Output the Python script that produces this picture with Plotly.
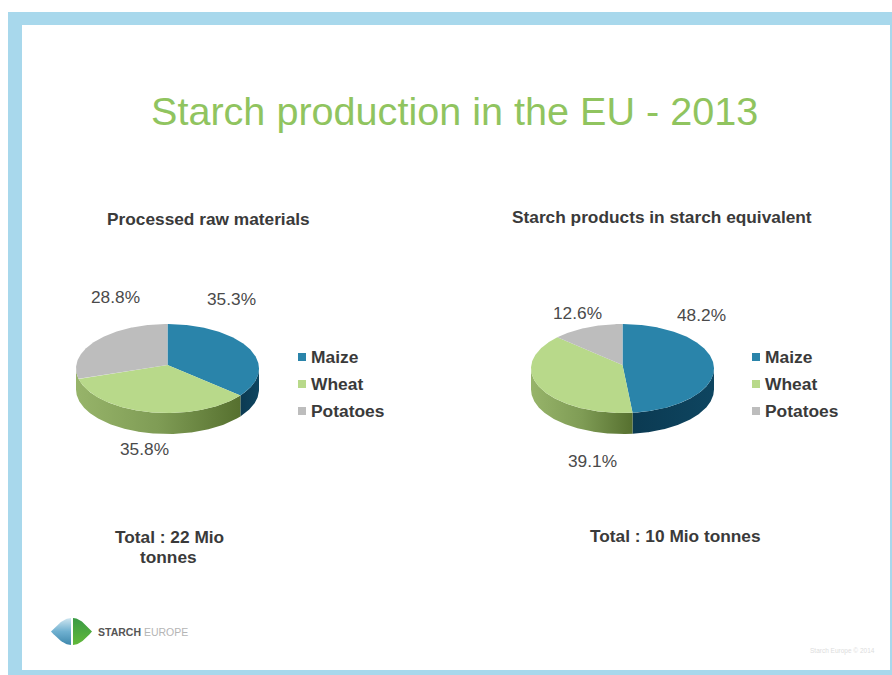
import numpy as np
import plotly.graph_objects as go

# Shares of each raw material, in percent
categories = ["Maize", "Wheat", "Potatoes"]
raw_material_shares = [35.3, 35.8, 28.8]
starch_product_shares = [48.2, 39.1, 12.6]
share_labels_left = ["35.3%", "35.8%", "28.8%"]
share_labels_right = ["48.2%", "39.1%", "12.6%"]

W, H = 892, 675
SANS = "Liberation Sans, Arial, sans-serif"
TOP_COLORS = ["#2a84aa", "#b8d98a", "#bdbdbd"]
LABEL_GREY = "#4a4a4a"
DARK_TEXT = "#3a3a3a"
FRAME = "#a8d8ec"

RX, RY, DEPTH = 91.5, 44.5, 21
CY = 368.5


def rim(start, stop, cx, cy):
    # Points along the elliptical rim, angle measured clockwise from 12 o'clock
    n = max(2, int(abs(stop - start) * 2))
    a = np.radians(np.linspace(start, stop, n))
    return cx + RX * np.sin(a), cy - RY * np.cos(a)


def add_pie(fig, shares, cx):
    total = sum(shares)
    edges = np.concatenate([[0], np.cumsum(shares) / total * 360])
    apex_y = CY - 3.5

    # Side wall of the front half of the rim, shaded from left to right
    walls = [
        (0, ["#0b3a52", "#0e4560"], 90, edges[1]),
        (1, ["#97b46a", "#7f9c55", "#56702f"], edges[1], 270),
    ]
    for i, stops, lo, hi in walls:
        lo = max(lo, 90)
        if hi <= lo:
            continue
        x, y = rim(lo, hi, cx, CY)
        xs = np.concatenate([x, x[::-1]])
        ys = np.concatenate([y, y[::-1] + DEPTH])
        scale = [[k / (len(stops) - 1), c] for k, c in enumerate(stops)]
        fig.add_trace(go.Scatter(
            x=xs, y=ys, mode="lines", line=dict(width=0), fill="toself",
            fillgradient=dict(type="horizontal", colorscale=scale),
            hoverinfo="skip", showlegend=False,
        ))

    # Top face wedges
    for i, color in enumerate(TOP_COLORS):
        x, y = rim(edges[i], edges[i + 1], cx, CY)
        fig.add_trace(go.Scatter(
            x=np.concatenate([[cx], x, [cx]]),
            y=np.concatenate([[apex_y], y, [apex_y]]),
            mode="lines", line=dict(width=0), fill="toself",
            fillcolor=color, hoverinfo="skip", showlegend=False,
        ))


def add_legend(fig, x, y_top):
    ys = [y_top + 27 * k for k in range(3)]
    fig.add_trace(go.Scatter(
        x=[x] * 3, y=ys, mode="markers",
        marker=dict(symbol="square", size=8, color=TOP_COLORS),
        hoverinfo="skip", showlegend=False,
    ))
    fig.add_trace(go.Scatter(
        x=[x + 9] * 3, y=[v + 1.5 for v in ys], mode="text",
        text=categories, textposition="middle right",
        textfont=dict(family=SANS, size=17.4, color=DARK_TEXT, weight="bold"),
        hoverinfo="skip", showlegend=False,
    ))


def leaf(x0, x1, y0, y1, n=30):
    # Half of the lens-shaped logo mark, from a tip to the central slit
    t = np.linspace(0, 1, n)
    mid = (y0 + y1) / 2
    half = (y1 - y0) / 2
    top = mid - half * np.sin(t * np.pi / 2)
    bot = mid + half * np.sin(t * np.pi / 2)
    xs = x0 + (x1 - x0) * t
    return np.concatenate([xs, xs[::-1]]), np.concatenate([top, bot[::-1]])


fig = go.Figure()
add_pie(fig, raw_material_shares, 167.5)
add_pie(fig, starch_product_shares, 622.5)
add_legend(fig, 302, 357)
add_legend(fig, 756, 357)

# Logo mark
lx, ly = leaf(51, 71, 618, 645)
fig.add_trace(go.Scatter(
    x=lx, y=ly, mode="lines", line=dict(width=0), fill="toself",
    fillgradient=dict(type="vertical", colorscale=[[0, "#3f88ad"], [0.5, "#6fb0d0"], [1, "#cfe6f0"]]),
    hoverinfo="skip", showlegend=False,
))
gx, gy = leaf(92, 73, 618, 645)
fig.add_trace(go.Scatter(
    x=gx, y=gy, mode="lines", line=dict(width=0), fill="toself",
    fillgradient=dict(type="vertical", colorscale=[[0, "#62b93a"], [1, "#3a9a45"]]),
    hoverinfo="skip", showlegend=False,
))


def label(x, y, text, size=17.3, color=LABEL_GREY, bold=False, anchor="center"):
    fig.add_annotation(
        x=x, y=y, xref="x", yref="y", text=text, showarrow=False, xanchor=anchor, yanchor="middle",
        font=dict(family=SANS, size=size, color=color, weight="bold" if bold else "normal"),
    )


label(454, 111, "Starch production in the EU - 2013", size=39.6, color="#90c45f")
label(208.5, 219, "Processed raw materials", color=DARK_TEXT, bold=True)
label(662, 217, "Starch products in starch equivalent", color=DARK_TEXT, bold=True)

label(231, 299, share_labels_left[0])
label(144, 449, share_labels_left[1])
label(115, 297, share_labels_left[2])
label(701, 315, share_labels_right[0])
label(592, 461, share_labels_right[1])
label(577, 313, share_labels_right[2])

label(169, 537, "Total : 22 Mio", color=DARK_TEXT, bold=True)
label(168, 557, "tonnes", color=DARK_TEXT, bold=True)
label(675.5, 536, "Total : 10 Mio tonnes", color=DARK_TEXT, bold=True)

label(96, 632, "<b>STARCH</b> <span style='color:#b5b5b5'>EUROPE</span>", size=10.5, color="#555555", anchor="left")
label(842, 651, "Starch Europe © 2014", size=6.5, color="#dddddd")

fig.update_layout(
    width=W, height=H, margin=dict(l=0, r=0, t=0, b=0),
    paper_bgcolor="white", plot_bgcolor="white", showlegend=False,
    xaxis=dict(range=[0, W], visible=False, fixedrange=True),
    yaxis=dict(range=[H, 0], visible=False, fixedrange=True),
    shapes=[
        dict(type="rect", xref="x", yref="y", x0=8, x1=W, y0=12, y1=H, fillcolor=FRAME, line_width=0, layer="below"),
        dict(type="rect", xref="x", yref="y", x0=22, x1=890, y0=25, y1=670, fillcolor="white", line_width=0, layer="below"),
    ],
)

fig.write_html("out.html")
